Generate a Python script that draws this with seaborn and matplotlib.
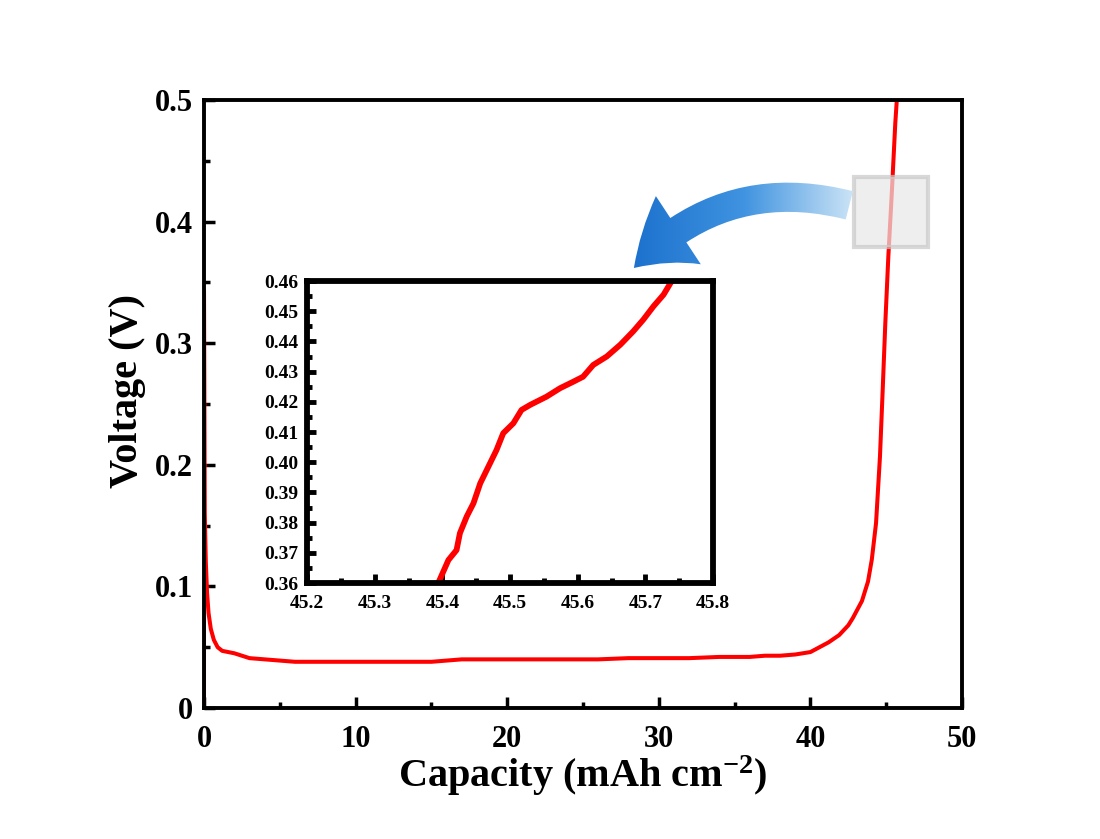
import numpy as np
import pandas as pd
import seaborn as sns
import matplotlib
matplotlib.use("Agg")
import matplotlib.pyplot as plt
from matplotlib.patches import FancyArrowPatch, Rectangle
from matplotlib.colors import LinearSegmentedColormap
from matplotlib.ticker import MultipleLocator, FuncFormatter

# ---------------- data ----------------
capacity = [0, 0, 0.05, 0.12, 0.2, 0.3, 0.45, 0.65, 0.9, 1.2, 1.6, 2.0, 2.5, 3.0,
            4, 5, 6, 7, 8, 9, 10, 11, 12, 13, 14, 15, 16, 17, 18, 20, 22, 24, 26,
            28, 30, 32, 34, 36, 37, 38, 39, 40, 40.6, 41.2, 41.9, 42.5, 42.8, 43.4,
            43.8, 44.05, 44.33, 44.59, 44.77, 44.94, 45.14, 45.38, 45.6, 45.7]
voltage = [0, 0.343, 0.16, 0.12, 0.095, 0.078, 0.065, 0.056, 0.050, 0.047, 0.046,
           0.045, 0.043, 0.041, 0.040, 0.039, 0.038, 0.038, 0.038, 0.038, 0.038,
           0.038, 0.038, 0.038, 0.038, 0.038, 0.039, 0.040, 0.040, 0.040, 0.040,
           0.040, 0.040, 0.041, 0.041, 0.041, 0.042, 0.042, 0.043, 0.043, 0.044,
           0.046, 0.050, 0.054, 0.060, 0.068, 0.074, 0.088, 0.104, 0.122, 0.152,
           0.207, 0.262, 0.316, 0.371, 0.426, 0.481, 0.5]

inset_capacity = [45.394, 45.409, 45.421, 45.426, 45.436, 45.446, 45.456, 45.468,
                  45.480, 45.490, 45.505, 45.517, 45.530, 45.554, 45.574, 45.594,
                  45.608, 45.623, 45.643, 45.663, 45.682, 45.697, 45.712, 45.727,
                  45.739]
inset_voltage = [0.360, 0.3676, 0.3709, 0.3765, 0.382, 0.3864, 0.393, 0.3985,
                 0.404, 0.4096, 0.4129, 0.4173, 0.419, 0.4217, 0.4245, 0.4267,
                 0.4283, 0.4322, 0.435, 0.4389, 0.4433, 0.4472, 0.4516, 0.4555,
                 0.460]

x_ticks = [0, 10, 20, 30, 40, 50]
y_ticks = [0, 0.1, 0.2, 0.3, 0.4, 0.5]
inset_x_ticks = [45.2, 45.3, 45.4, 45.5, 45.6, 45.7, 45.8]
inset_y_ticks = [0.36, 0.37, 0.38, 0.39, 0.40, 0.41, 0.42, 0.43, 0.44, 0.45, 0.46]

xlabel = "Capacity (mAh cm$^{-2}$)"
ylabel = "Voltage (V)"

# ---------------- style ----------------
sns.set_theme(style="ticks")
plt.rcParams["font.family"] = ["Liberation Serif", "DejaVu Serif"]
plt.rcParams["font.weight"] = "bold"
plt.rcParams["text.color"] = "black"
plt.rcParams["axes.labelcolor"] = "black"
plt.rcParams["mathtext.fontset"] = "custom"
plt.rcParams["mathtext.rm"] = "Liberation Serif:bold"
plt.rcParams["mathtext.it"] = "Liberation Serif:bold"
plt.rcParams["mathtext.bf"] = "Liberation Serif:bold"
plt.rcParams["mathtext.default"] = "rm"

W, H = 1100, 839
fig = plt.figure(figsize=(W / 100, H / 100), dpi=100)
fig.patch.set_facecolor("white")

# main axes
ax = fig.add_axes([204 / W, 1 - 708 / H, (962 - 204) / W, (708 - 100) / H])
main_df = pd.DataFrame({"cap": capacity, "v": voltage})
sns.lineplot(data=main_df, x="cap", y="v", sort=False, estimator=None,
             color="#ff0000", lw=2.9, ax=ax)
ax.set_xlim(0, 50)
ax.set_ylim(0, 0.5)
ax.set_xticks(x_ticks)
ax.set_yticks(y_ticks)
ax.xaxis.set_minor_locator(MultipleLocator(5))
ax.yaxis.set_minor_locator(MultipleLocator(0.05))
ax.xaxis.set_major_formatter(FuncFormatter(lambda v, p: f"{v:.0f}"))
ax.yaxis.set_major_formatter(FuncFormatter(lambda v, p: "0" if abs(v) < 1e-9 else f"{v:.1f}"))
ax.tick_params(which="both", direction="in", top=False, right=False, width=2.5,
               colors="black", labelsize=22)
ax.tick_params(axis="x", which="both", pad=12)
ax.tick_params(axis="y", which="both", pad=8)
ax.tick_params(which="major", length=8)
ax.tick_params(which="minor", length=4.5)
for sp in ax.spines.values():
    sp.set_linewidth(2.8)
    sp.set_color("black")
    sp.set_visible(True)
for lab in ax.get_xticklabels() + ax.get_yticklabels():
    lab.set_fontweight("bold")
ax.set_xlabel(xlabel, fontsize=29, fontweight="bold", color="black", labelpad=0)
ax.set_ylabel(ylabel, fontsize=29, fontweight="bold", color="black")
ax.yaxis.set_label_coords(-0.077, 0.521)

# gray highlight square
ax.add_patch(Rectangle((42.88, 0.379), 4.88, 0.0577, facecolor="#e8e8e8",
                       edgecolor="#c8c8c8", lw=3, alpha=0.7, zorder=5))

# inset axes
axin = fig.add_axes([307 / W, 1 - 583 / H, (713 - 307) / W, (583 - 281) / H])
in_df = pd.DataFrame({"cap": inset_capacity, "v": inset_voltage})
sns.lineplot(data=in_df, x="cap", y="v", sort=False, estimator=None,
             color="#ff0000", lw=4.2, ax=axin)
axin.set_xlim(45.2, 45.8)
axin.set_ylim(0.36, 0.46)
axin.set_xticks(inset_x_ticks)
axin.set_yticks(inset_y_ticks)
axin.xaxis.set_minor_locator(MultipleLocator(0.05))
axin.yaxis.set_minor_locator(MultipleLocator(0.005))
axin.xaxis.set_major_formatter(FuncFormatter(lambda v, p: f"{v:.1f}"))
axin.yaxis.set_major_formatter(FuncFormatter(lambda v, p: f"{v:.2f}"))
axin.tick_params(which="both", direction="in", top=False, right=False, width=3.5,
                 colors="black", labelsize=14)
axin.tick_params(axis="x", which="both", pad=9)
axin.tick_params(axis="y", which="both", pad=6)
axin.tick_params(which="major", length=6.5)
axin.tick_params(which="minor", length=3.5)
for sp in axin.spines.values():
    sp.set_linewidth(4.2)
    sp.set_color("black")
for lab in axin.get_xticklabels() + axin.get_yticklabels():
    lab.set_fontweight("bold")
axin.set_xlabel("")
axin.set_ylabel("")
axin.set_facecolor("white")

# overlay for the curved gradient arrow (pixel-like coordinates)
ov = fig.add_axes([0, 0, 1, 1], zorder=10)
ov.set_xlim(0, W)
ov.set_ylim(H, 0)
ov.axis("off")
ov.patch.set_alpha(0)
arrow = FancyArrowPatch((852, 206), (632, 270),
                        connectionstyle="arc3,rad=0.3",
                        arrowstyle="simple,head_width=4.2,head_length=3.0,tail_width=1.5",
                        mutation_scale=14, lw=0, color="#2f86d8")
ov.add_patch(arrow)
cmap = LinearSegmentedColormap.from_list("bl", ["#1a6fcc", "#3f93e0", "#d6eaf8"])
grad = np.linspace(0, 1, 256)[None, :]
im = ov.imshow(grad, cmap=cmap, extent=[625, 862, 285, 170], aspect="auto",
               interpolation="bilinear", zorder=11)
im.set_clip_path(arrow)
arrow.set_alpha(0)

fig.savefig("out.png", dpi=100, facecolor="white")
